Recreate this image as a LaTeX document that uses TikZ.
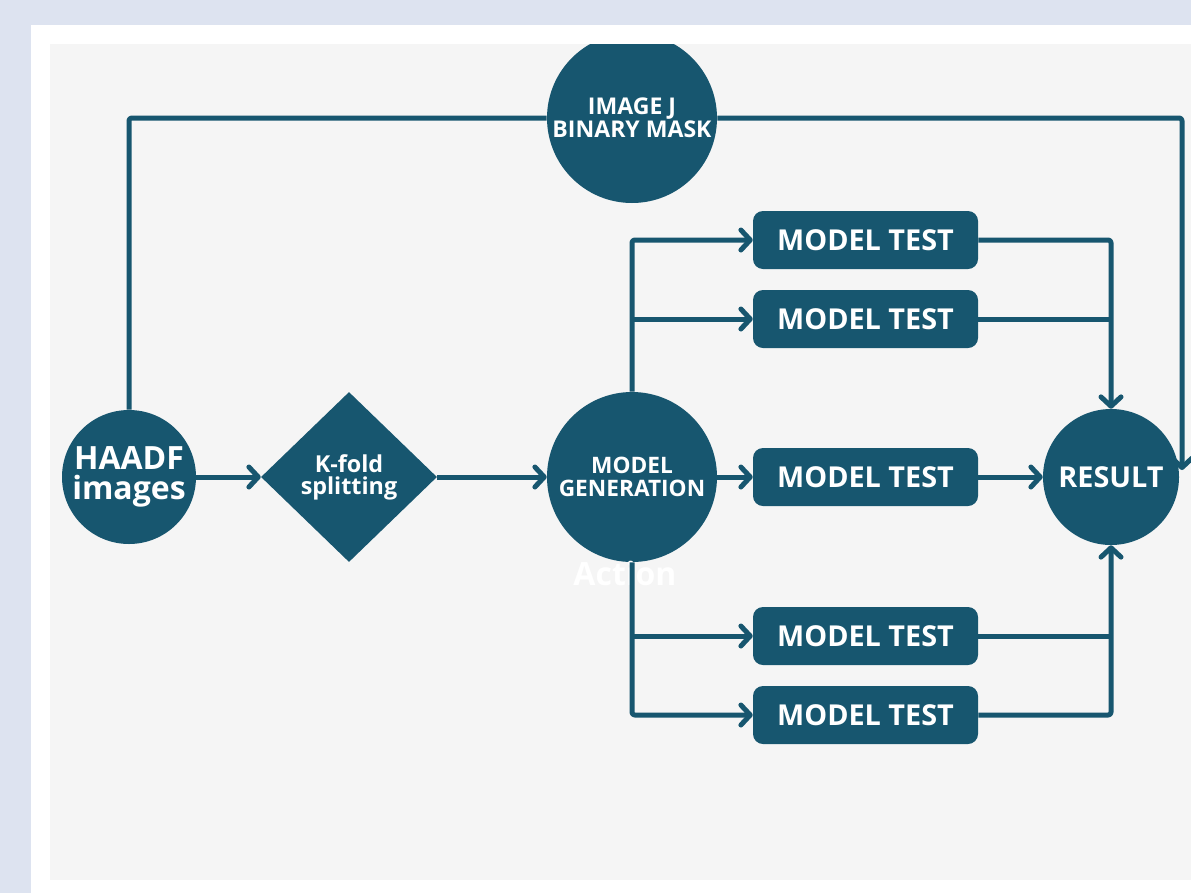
\documentclass[tikz,border=0pt]{standalone}
\usepackage{fontspec}
\setmainfont{Open Sans}
\usetikzlibrary{shapes.geometric,arrows.meta}

\definecolor{petrol}{RGB}{23,86,111}
\definecolor{pagebg}{RGB}{221,227,240}
\definecolor{canvas}{RGB}{245,245,245}

\tikzset{
  block/.style={fill=petrol, text=white, align=center, inner sep=0pt},
  roundnode/.style={block, circle},
  testbox/.style={block, rectangle, rounded corners=7.5pt, minimum width=168.75pt, minimum height=43.5pt, font=\fontsize{21.6}{22}\selectfont\bfseries},
  link/.style={draw=petrol, line width=3.75pt, line join=round, rounded corners=2pt},
  arrow/.style={link, -{Straight Barb[length=7pt,width=15pt,round]}},
}

\begin{document}
\begin{tikzpicture}[x=0.75pt,y=0.75pt,yscale=-1,xscale=1]
    % page and canvas
    \fill[pagebg] (0,0) rectangle (1191,893);
    \fill[white] (31,25) rectangle (1191,893);
    \fill[canvas] (50,44) rectangle (1191,880);
    \useasboundingbox (0,0) rectangle (1191,893);
    
    % Circles and diamond
    \node[roundnode, minimum size=100.5pt, font=\fontsize{24}{23}\selectfont\bfseries] (haadf) at (129,477) {HAADF\\images};
    \node[block, diamond, minimum width=132pt, minimum height=127.5pt, font=\fontsize{17.5}{16.5}\selectfont\bfseries] (kfold) at (349,477) {K-fold\\splitting};
    \node[roundnode, minimum size=127.5pt, font=\fontsize{17}{17}\selectfont\bfseries] (modelgen) at (632,477) {MODEL\\GENERATION};
    \begin{scope}
      \clip (50,44) rectangle (1191,880);
      \node[roundnode, minimum size=127.5pt, font=\fontsize{17.3}{17}\selectfont\bfseries] (imagej) at (632,118) {IMAGE J\\BINARY MASK};
    \end{scope}
    \node[roundnode, minimum size=102pt, font=\fontsize{21.6}{22}\selectfont\bfseries] (result) at (1111,477) {RESULT};
    
    % Test boxes
    \node[testbox] (test1) at (865.5,240) {MODEL TEST};
    \node[testbox] (test2) at (865.5,319) {MODEL TEST};
    \node[testbox] (test3) at (865.5,477) {MODEL TEST};
    \node[testbox] (test4) at (865.5,636) {MODEL TEST};
    \node[testbox] (test5) at (865.5,715) {MODEL TEST};
    
    % Faint label
    \node[text=white, font=\fontsize{24}{24}\selectfont\bfseries] (action) at (625,573) {Action};
    
    \coordinate (feedback) at (1182,470);
    
    % Connectors
    \draw[link] (haadf) |- (imagej);
    \draw[arrow] (imagej) -| (feedback);
    \draw[arrow] (haadf) -- (kfold);
    \draw[arrow] (kfold) -- (modelgen);
    \draw[arrow] (modelgen) -- (test3);
    \draw[arrow] (modelgen) |- (test1);
    \draw[arrow] (modelgen.north |- test2) -- (test2);
    \draw[arrow] (modelgen) |- (test5);
    \draw[arrow] (modelgen.south |- test4) -- (test4);
    \draw[arrow] (test1) -| (result);
    \draw[link] (test2) -- (test2 -| result);
    \draw[arrow] (test3) -- (result);
    \draw[arrow] (test5) -| (result);
    \draw[link] (test4) -- (test4 -| result);
    
\end{tikzpicture}
\end{document}
